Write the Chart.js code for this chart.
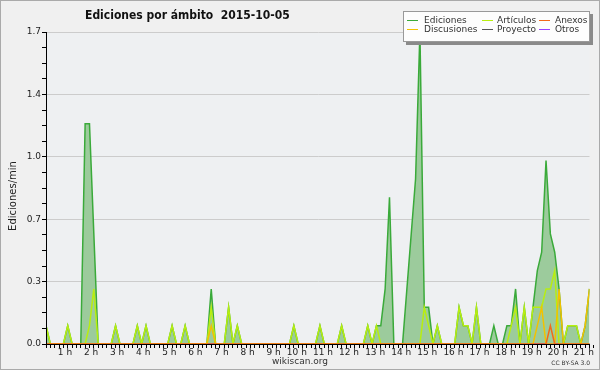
<!DOCTYPE html>
<html>
<head>
<meta charset="utf-8">
<script src="https://cdn.jsdelivr.net/npm/chart.js@4.4.0/dist/chart.umd.min.js"></script>
<style>
  html, body { margin: 0; padding: 0; background: #f0f0f0; }
</style>
</head>
<body>
<canvas id="plot" width="600" height="370"></canvas>
<script>
// edits per minute, one value per 10-minute slot, 2015-10-05 from 00:00
const ediciones = [
  0.1, 0, 0, 0, 0, 0.1, 0, 0, 0, 1.2, 1.2, 0.6,
  0, 0, 0, 0, 0.1, 0, 0, 0, 0, 0.1, 0, 0.1,
  0, 0, 0, 0, 0, 0.1, 0, 0, 0.1, 0, 0, 0,
  0, 0, 0.3, 0, 0, 0, 0.2, 0, 0.1, 0, 0, 0,
  0, 0, 0, 0, 0, 0, 0, 0, 0, 0.1, 0, 0,
  0, 0, 0, 0.1, 0, 0, 0, 0, 0.1, 0, 0, 0,
  0, 0, 0.1, 0, 0.1, 0.1, 0.3, 0.8, 0, 0, 0, 0.3,
  0.6, 0.9, 1.7, 0.2, 0.2, 0, 0.1, 0, 0, 0, 0, 0.2,
  0.1, 0.1, 0, 0.2, 0, 0, 0, 0.1, 0, 0, 0.1, 0.1,
  0.3, 0, 0.2, 0, 0.2, 0.4, 0.5, 1.0, 0.6, 0.5, 0.3, 0,
  0.1, 0.1, 0.1, 0, 0.1, 0.3
];
const articulos = [
  0.1, 0, 0, 0, 0, 0.1, 0, 0, 0, 0, 0.1, 0.3,
  0, 0, 0, 0, 0.1, 0, 0, 0, 0, 0.1, 0, 0.1,
  0, 0, 0, 0, 0, 0.1, 0, 0, 0.1, 0, 0, 0,
  0, 0, 0.2, 0, 0, 0, 0.2, 0, 0.1, 0, 0, 0,
  0, 0, 0, 0, 0, 0, 0, 0, 0, 0.1, 0, 0,
  0, 0, 0, 0.1, 0, 0, 0, 0, 0.1, 0, 0, 0,
  0, 0, 0.1, 0, 0.1, 0, 0, 0, 0, 0, 0, 0,
  0, 0, 0, 0.2, 0.1, 0, 0.1, 0, 0, 0, 0, 0.2,
  0.1, 0.1, 0, 0.2, 0, 0, 0, 0, 0, 0, 0, 0.1,
  0.2, 0, 0.2, 0, 0.2, 0.2, 0.2, 0.3, 0.3, 0.4, 0, 0,
  0.1, 0.1, 0.1, 0, 0, 0
];
const discusiones = [
  0, 0, 0, 0, 0, 0, 0, 0, 0, 0, 0, 0,
  0, 0, 0, 0, 0, 0, 0, 0, 0, 0, 0, 0,
  0, 0, 0, 0, 0, 0, 0, 0, 0, 0, 0, 0,
  0, 0, 0.1, 0, 0, 0, 0, 0, 0, 0, 0, 0,
  0, 0, 0, 0, 0, 0, 0, 0, 0, 0, 0, 0,
  0, 0, 0, 0, 0, 0, 0, 0, 0, 0, 0, 0,
  0, 0, 0, 0, 0, 0, 0, 0, 0, 0, 0, 0,
  0, 0, 0, 0, 0, 0, 0, 0, 0, 0, 0, 0,
  0, 0, 0, 0, 0, 0, 0, 0, 0, 0, 0, 0,
  0, 0, 0, 0, 0, 0.1, 0.2, 0, 0, 0, 0.3, 0,
  0, 0, 0, 0, 0.1, 0.3
];
const anexos = [
  0, 0, 0, 0, 0, 0, 0, 0, 0, 0, 0, 0,
  0, 0, 0, 0, 0, 0, 0, 0, 0, 0, 0, 0,
  0, 0, 0, 0, 0, 0, 0, 0, 0, 0, 0, 0,
  0, 0, 0, 0, 0, 0, 0, 0, 0, 0, 0, 0,
  0, 0, 0, 0, 0, 0, 0, 0, 0, 0, 0, 0,
  0, 0, 0, 0, 0, 0, 0, 0, 0, 0, 0, 0,
  0, 0, 0, 0, 0, 0, 0, 0, 0, 0, 0, 0,
  0, 0, 0, 0, 0, 0, 0, 0, 0, 0, 0, 0,
  0, 0, 0, 0, 0, 0, 0, 0, 0, 0, 0, 0,
  0, 0, 0, 0, 0, 0, 0, 0, 0.1, 0, 0, 0,
  0, 0, 0, 0, 0, 0
];
const proyecto = [
  0, 0, 0, 0, 0, 0, 0, 0, 0, 0, 0, 0,
  0, 0, 0, 0, 0, 0, 0, 0, 0, 0, 0, 0,
  0, 0, 0, 0, 0, 0, 0, 0, 0, 0, 0, 0,
  0, 0, 0, 0, 0, 0, 0, 0, 0, 0, 0, 0,
  0, 0, 0, 0, 0, 0, 0, 0, 0, 0, 0, 0,
  0, 0, 0, 0, 0, 0, 0, 0, 0, 0, 0, 0,
  0, 0, 0, 0, 0, 0, 0, 0, 0, 0, 0, 0,
  0, 0, 0, 0, 0, 0, 0, 0, 0, 0, 0, 0,
  0, 0, 0, 0, 0, 0, 0, 0, 0, 0, 0, 0,
  0, 0, 0, 0, 0, 0, 0, 0, 0, 0, 0, 0,
  0, 0, 0, 0, 0, 0
];
const otros = [
  0, 0, 0, 0, 0, 0, 0, 0, 0, 0, 0, 0,
  0, 0, 0, 0, 0, 0, 0, 0, 0, 0, 0, 0,
  0, 0, 0, 0, 0, 0, 0, 0, 0, 0, 0, 0,
  0, 0, 0, 0, 0, 0, 0, 0, 0, 0, 0, 0,
  0, 0, 0, 0, 0, 0, 0, 0, 0, 0, 0, 0,
  0, 0, 0, 0, 0, 0, 0, 0, 0, 0, 0, 0,
  0, 0, 0, 0, 0, 0, 0, 0, 0, 0, 0, 0,
  0, 0, 0, 0, 0, 0, 0, 0, 0, 0, 0, 0,
  0, 0, 0, 0, 0, 0, 0, 0, 0, 0, 0, 0,
  0, 0, 0, 0, 0, 0, 0, 0, 0, 0, 0, 0,
  0, 0, 0, 0, 0, 0
];

const hourLabels = ['1 h', '2 h', '3 h', '4 h', '5 h', '6 h', '7 h', '8 h', '9 h', '10 h',
  '11 h', '12 h', '13 h', '14 h', '15 h', '16 h', '17 h', '18 h', '19 h', '20 h', '21 h'];
const yLabels = ['0.0', '0.3', '0.7', '1.0', '1.4', '1.7'];
const yMax = 1.7;
const slotsPerHour = 6;
const minorPerLabel = 4;

const titleText = 'Ediciones por ámbito  2015-10-05';
const yTitle = 'Ediciones/min';

const pts = arr => arr.map((v, i) => ({ x: i, y: v }));
const lastSlot = ediciones.length - 1;

const decor = {
    id: 'decor',
    beforeDraw(chart) {
        const { ctx, chartArea: a, width, height } = chart;
        ctx.save();
        ctx.fillStyle = '#f0f0f0';
        ctx.fillRect(0, 0, width, height);
        ctx.fillStyle = '#eef0f2';
        ctx.fillRect(a.left, a.top, a.right - a.left, a.bottom - a.top);
        ctx.restore();
    },
    afterDraw(chart) {
        const { ctx, width, height } = chart;
        ctx.save();
        ctx.strokeStyle = '#aaa';
        ctx.lineWidth = 1;
        ctx.strokeRect(0.5, 0.5, width - 1, height - 1);

        ctx.fillStyle = '#111';
        ctx.textAlign = 'left';
        ctx.textBaseline = 'alphabetic';
        ctx.font = 'bold 12px "DejaVu Sans Condensed", "DejaVu Sans"';
        ctx.fillText(titleText, 85, 19);

        ctx.save();
        ctx.translate(13, 196);
        ctx.rotate(-Math.PI / 2);
        ctx.font = '10px "DejaVu Sans"';
        ctx.textAlign = 'center';
        ctx.textBaseline = 'middle';
        ctx.fillStyle = '#222';
        ctx.fillText(yTitle, 0, 0);
        ctx.restore();

        ctx.fillStyle = '#333';
        ctx.font = '9px "DejaVu Sans"';
        ctx.textAlign = 'center';
        ctx.fillText('wikiscan.org', 300, 364);
        ctx.font = '6px "DejaVu Sans"';
        ctx.textAlign = 'right';
        ctx.fillText('CC BY-SA 3.0', 590, 365);

        // legend box, three columns by two rows
        ctx.fillStyle = '#8a8a8a';
        ctx.fillRect(406, 14, 187, 31);
        ctx.fillStyle = '#fdfdfd';
        ctx.fillRect(403.5, 11.5, 186, 30);
        ctx.strokeStyle = '#999';
        ctx.strokeRect(403.5, 11.5, 186, 30);
        const lineX = [407, 482, 539];
        const textX = [424, 497, 555];
        const rowY = [20, 29];
        ctx.font = '9px "DejaVu Sans"';
        ctx.textAlign = 'left';
        ctx.textBaseline = 'middle';
        chart.data.datasets.forEach((ds, i) => {
            const col = Math.floor(i / 2), row = i % 2;
            ctx.strokeStyle = ds.borderColor;
            ctx.lineWidth = 1;
            ctx.beginPath();
            ctx.moveTo(lineX[col], rowY[row] + 0.5);
            ctx.lineTo(lineX[col] + 11, rowY[row] + 0.5);
            ctx.stroke();
            ctx.fillStyle = '#333';
            ctx.fillText(ds.label, textX[col], rowY[row] + 1);
        });
        ctx.restore();
    }
};

const line = (label, data, color, order, extra) => Object.assign({
    label: label,
    data: pts(data),
    borderColor: color,
    borderWidth: 1.5,
    pointRadius: 0,
    tension: 0,
    fill: false,
    order: order
}, extra || {});

new Chart(document.getElementById('plot').getContext('2d'), {
    type: 'line',
    data: {
        datasets: [
            line('Ediciones', ediciones, '#3aaa3a', 6, { fill: 'origin', backgroundColor: '#9ccb9c' }),
            line('Discusiones', discusiones, '#f2c200', 2),
            line('Artículos', articulos, '#b8ee10', 3),
            line('Proyecto', proyecto, '#555555', 5),
            line('Anexos', anexos, '#f26a1a', 1),
            line('Otros', otros, '#9a40ff', 4)
        ]
    },
    options: {
        responsive: false,
        animation: false,
        layout: { padding: { left: 0, right: 10.5, top: 32, bottom: 0 } },
        plugins: { legend: { display: false }, tooltip: { enabled: false } },
        scales: {
            x: {
                type: 'linear',
                min: 0,
                max: lastSlot,
                afterBuildTicks: s => {
                    const t = [];
                    for (let v = 0; v <= hourLabels.length * slotsPerHour; v++) t.push({ value: v });
                    s.ticks = t;
                },
                afterFit: s => { s.height = 26; },
                ticks: {
                    autoSkip: false,
                    maxRotation: 0,
                    align: 'end',
                    padding: -1,
                    color: '#222',
                    font: { family: 'DejaVu Sans', size: 9 },
                    callback: v => (v > 0 && v % slotsPerHour === 0) ? hourLabels[v / slotsPerHour - 1] : ''
                },
                grid: { drawOnChartArea: false, tickLength: 4, tickColor: '#000', tickWidth: 1 },
                border: { color: '#000', width: 1, z: 1 }
            },
            y: {
                min: 0,
                max: yMax,
                afterBuildTicks: s => {
                    const n = (yLabels.length - 1) * minorPerLabel;
                    const t = [];
                    for (let i = 0; i <= n; i++) t.push({ value: yMax * i / n });
                    s.ticks = t;
                },
                afterFit: s => { s.width = 46; },
                ticks: {
                    autoSkip: false,
                    padding: 1,
                    color: '#222',
                    font: { family: 'DejaVu Sans', size: 9 },
                    callback: (v, i) => i % minorPerLabel === 0 ? yLabels[i / minorPerLabel] : ''
                },
                grid: {
                    color: c => (c.index % minorPerLabel === 0 && c.index > 0) ? '#cccccc' : 'rgba(0,0,0,0)',
                    tickColor: '#000',
                    tickLength: 4
                },
                border: { color: '#000', width: 1, z: 1 }
            }
        }
    },
    plugins: [decor]
});
</script>
</body>
</html>
